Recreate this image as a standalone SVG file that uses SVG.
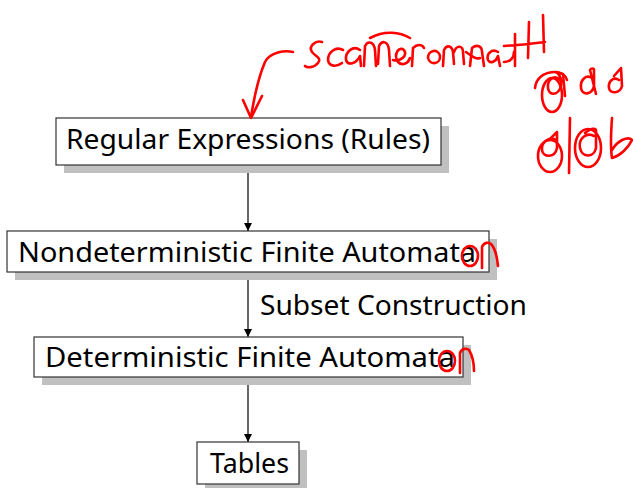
<svg xmlns="http://www.w3.org/2000/svg" width="633" height="488" viewBox="0 0 633 488">
  <style>
    .shadow { fill: #c0c0c0; }
    .box { fill: #ffffff; stroke: #333333; stroke-width: 1.2; }
    .label { font-family: "Noto Sans", "Open Sans", "DejaVu Sans", sans-serif; font-size: 27px; fill: #000000; }
    .edge { stroke: #000000; stroke-width: 1.2; fill: none; }
    .ink { stroke: #ff0000; stroke-width: 2.6; fill: none; stroke-linecap: round; stroke-linejoin: round; }
  </style>
  <defs>
    <marker id="arrow" viewBox="0 0 10 10" refX="10" refY="5" markerWidth="8" markerHeight="8" markerUnits="userSpaceOnUse" orient="auto">
      <path d="M0,0 L10,5 L0,10 z" fill="#000000"/>
    </marker>
  </defs>

  <!-- connectors -->
  <g id="connectors">
    <line class="edge" x1="248" y1="165" x2="248" y2="231" marker-end="url(#arrow)"/>
    <line class="edge" x1="248" y1="272" x2="248" y2="337" marker-end="url(#arrow)"/>
    <line class="edge" x1="248" y1="377" x2="248" y2="442" marker-end="url(#arrow)"/>
    <text class="label" x="260" y="315" textLength="267" lengthAdjust="spacingAndGlyphs">Subset Construction</text>
  </g>

  <!-- nodes -->
  <g id="regex">
    <rect class="shadow" x="64" y="126" width="385" height="47"/>
    <rect class="box" x="56" y="118" width="385" height="47"/>
    <text class="label" x="66" y="149" textLength="364" lengthAdjust="spacingAndGlyphs">Regular Expressions (Rules)</text>
  </g>
  <g id="nfa">
    <rect class="shadow" x="15" y="239" width="482" height="41"/>
    <rect class="box" x="7" y="231" width="482" height="41"/>
    <text class="label" x="18" y="262" textLength="458" lengthAdjust="spacingAndGlyphs">Nondeterministic Finite Automata</text>
  </g>
  <g id="dfa">
    <rect class="shadow" x="42" y="345" width="429" height="40"/>
    <rect class="box" x="34" y="337" width="429" height="40"/>
    <text class="label" x="45" y="367" textLength="410" lengthAdjust="spacingAndGlyphs">Deterministic Finite Automata</text>
  </g>
  <g id="tables">
    <rect class="shadow" x="205" y="450" width="102" height="42"/>
    <rect class="box" x="197" y="442" width="102" height="42"/>
    <text class="label" x="210" y="473" textLength="79" lengthAdjust="spacingAndGlyphs">Tables</text>
  </g>

  <!-- red pen annotations -->
  <g id="annotations" class="ink">
    <!-- hooked arrow pointing at the rules box -->
    <path d="M293,52 C285,50 270,52 265,62 C259,76 254,98 251,117"/>
    <path d="M243,100 L251,118 L262,96"/>
    <!-- scribbled word -->
    <path d="M322,42 C316,40 308,46 312,52 C316,57 322,58 318,63 C314,68 307,68 305,66"/>
    <path d="M343,50 C336,46 328,52 328,60 C329,67 337,67 342,63"/>
    <path d="M360,50 C353,45 345,52 346,60 C348,66 356,64 360,56 L361,66"/>
    <path d="M364,66 L365,46 C368,40 374,42 375,50 L376,66 M378,64 L379,46 C382,40 388,41 389,50 L390,66"/>
    <path d="M370,38 C385,30 400,32 410,38"/>
    <path d="M393,60 C400,62 408,56 404,50 C399,46 393,54 398,62 C402,66 408,64 410,58"/>
    <path d="M412,66 L413,48 C417,44 422,44 424,48"/>
    <path d="M428,58 C428,50 438,48 440,56 C441,64 430,66 428,58"/>
    <path d="M443,66 L444,50 C447,44 452,46 453,52 L454,64 M454,52 C457,44 463,46 463,52 L464,64"/>
    <path d="M470,66 L472,48 C477,44 482,46 482,52 L484,66"/>
    <path d="M466,52 C472,56 476,60 480,58"/>
    <path d="M498,52 C492,48 486,54 488,60 C490,64 496,62 498,56 L500,66"/>
    <path d="M504,62 C510,62 514,58 514,52"/>
    <path d="M515,34 L515,66 M504,46 L530,44 M529,22 L528,58 M543,15 L544,52 M528,44 L545,42"/>
    <!-- @aa -->
    <ellipse cx="552" cy="95" rx="10" ry="17"/>
    <path d="M560,80 C554,74 547,80 548,88 C549,96 558,96 561,86 C562,80 560,74 556,72 L563,74 L565,96"/>
    <path d="M535,88 C536,78 544,72 555,72 C562,72 566,76 567,80"/>
    <path d="M592,78 C586,74 580,80 581,88 C582,96 592,95 594,86 L594,70 C594,68 591,68 590,70 L596,94"/>
    <path d="M619,80 C613,76 608,82 609,88 C610,94 620,94 622,86 L621,68 L614,76"/>
    <!-- @|@b -->
    <ellipse cx="550" cy="156" rx="12" ry="16"/>
    <path d="M556,140 C550,136 541,142 542,150 C543,158 555,158 557,148 L557,132 L549,140"/>
    <path d="M570,118 L569,173"/>
    <ellipse cx="588" cy="148" rx="13" ry="19"/>
    <path d="M594,136 C587,132 578,138 580,148 C582,158 594,158 596,148 L596,130 C596,128 590,128 585,133"/>
    <path d="M612,118 C611,132 610,146 612,158 C620,156 628,148 632,140 C628,136 618,140 612,150"/>
    <!-- "on" additions -->
    <ellipse cx="470" cy="256" rx="8" ry="10"/>
    <path d="M482,268 L482,247 C484,242 489,242 491,244 C495,248 497,256 498,266"/>
    <ellipse cx="447" cy="361" rx="8" ry="10"/>
    <path d="M460,373 L460,353 C462,348 467,348 469,350 C472,355 474,362 474,371"/>
  </g>
</svg>
